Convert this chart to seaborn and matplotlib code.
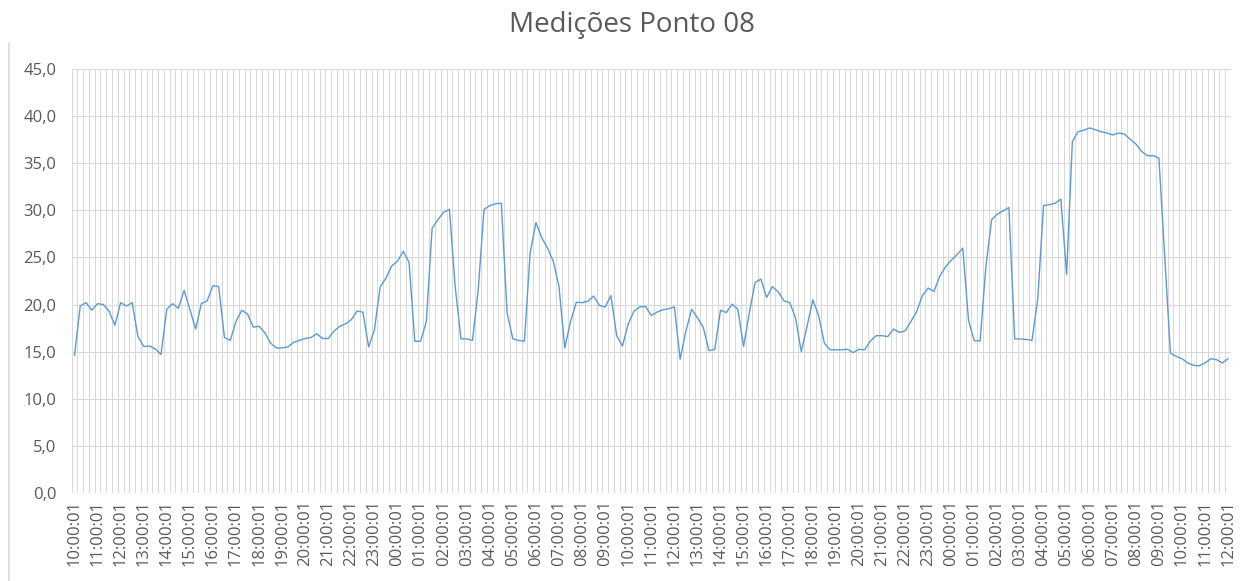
import numpy as np
import pandas as pd
import matplotlib
matplotlib.use("Agg")
import matplotlib.pyplot as plt
from matplotlib.lines import Line2D
import seaborn as sns

# readings every 15 min, 10:00:01 -> 12:00:01 two days later
values = [
    14.6, 19.85, 20.2, 19.4, 20.1, 20.0, 19.3, 17.8, 20.2, 19.85,
    20.2, 16.6, 15.55, 15.6, 15.3, 14.7, 19.5, 20.1, 19.6, 21.5,
    19.5, 17.4, 20.1, 20.4, 22.0, 21.9, 16.5, 16.2, 18.2, 19.4,
    19.0, 17.6, 17.7, 17.0, 15.9, 15.4, 15.4, 15.5, 16.0, 16.2,
    16.4, 16.5, 16.9, 16.4, 16.4, 17.2, 17.7, 17.95, 18.4, 19.3,
    19.2, 15.5, 17.35, 21.9, 22.8, 24.1, 24.6, 25.65, 24.5, 16.1,
    16.1, 18.2, 28.1, 29.0, 29.8, 30.1, 21.9, 16.35, 16.35, 16.2,
    21.6, 30.1, 30.5, 30.7, 30.75, 19.1, 16.35, 16.2, 16.1, 25.5,
    28.7, 27.1, 26.0, 24.6, 21.9, 15.4, 18.2, 20.25, 20.2, 20.35,
    20.9, 19.9, 19.75, 20.95, 16.7, 15.6, 17.95, 19.3, 19.75, 19.8,
    18.85, 19.2, 19.45, 19.55, 19.75, 14.2, 17.2, 19.5, 18.6, 17.6,
    15.1, 15.25, 19.4, 19.15, 20.05, 19.5, 15.55, 19.15, 22.35, 22.7,
    20.75, 21.9, 21.35, 20.4, 20.2, 18.6, 15.0, 17.7, 20.5, 18.85,
    15.9, 15.2, 15.2, 15.2, 15.25, 14.9, 15.25, 15.2, 16.15, 16.7,
    16.7, 16.6, 17.4, 17.05, 17.2, 18.2, 19.25, 20.95, 21.75, 21.4,
    23.0, 24.0, 24.7, 25.3, 26.0, 18.3, 16.15, 16.15, 24.0, 29.0,
    29.6, 29.95, 30.3, 16.35, 16.35, 16.3, 16.2, 20.6, 30.5, 30.6,
    30.75, 31.2, 23.2, 37.3, 38.35, 38.5, 38.75, 38.55, 38.35, 38.2,
    38.0, 38.2, 38.1, 37.55, 37.05, 36.25, 35.8, 35.8, 35.55, 25.1,
    14.85, 14.5, 14.25, 13.8, 13.55, 13.5, 13.8, 14.25, 14.15, 13.8,
    14.25,
]

hour_labels = [
    "10:00:01", "11:00:01", "12:00:01", "13:00:01", "14:00:01", "15:00:01",
    "16:00:01", "17:00:01", "18:00:01", "19:00:01", "20:00:01", "21:00:01",
    "22:00:01", "23:00:01", "00:00:01", "01:00:01", "02:00:01", "03:00:01",
    "04:00:01", "05:00:01", "06:00:01", "07:00:01", "08:00:01", "09:00:01",
    "10:00:01", "11:00:01", "12:00:01", "13:00:01", "14:00:01", "15:00:01",
    "16:00:01", "17:00:01", "18:00:01", "19:00:01", "20:00:01", "21:00:01",
    "22:00:01", "23:00:01", "00:00:01", "01:00:01", "02:00:01", "03:00:01",
    "04:00:01", "05:00:01", "06:00:01", "07:00:01", "08:00:01", "09:00:01",
    "10:00:01", "11:00:01", "12:00:01",
]
points_per_hour = 4

y_ticks = [0, 5, 10, 15, 20, 25, 30, 35, 40, 45]
y_labels = ["0,0", "5,0", "10,0", "15,0", "20,0", "25,0", "30,0", "35,0", "40,0", "45,0"]

title = "Medições Ponto 08"

sns.set_theme(style="white")
plt.rcParams["font.family"] = ["Open Sans", "DejaVu Sans"]

GRID = "#d9d9d9"
TEXT = "#595959"
LINE = "#5b9bd5"

df = pd.DataFrame({"idx": np.arange(len(values)), "valor": values})

fig = plt.figure(figsize=(12.45, 5.81), dpi=100)
ax = fig.add_axes([71.6 / 1245, 1 - 493 / 581, (1231 - 71.6) / 1245, (493 - 69) / 581])

sns.lineplot(data=df, x="idx", y="valor", ax=ax, color=LINE, linewidth=1.0)

n = len(values)
ax.set_xlim(-0.5, n - 0.5)
ax.set_ylim(0, 45)

ax.set_xticks(np.arange(0, n, points_per_hour))
ax.set_xticklabels(hour_labels, rotation=90, fontsize=12, color=TEXT)
ax.set_xticks(np.arange(-0.5, n, 1), minor=True)
ax.set_yticks(y_ticks)
ax.set_yticklabels(y_labels, fontsize=12, color=TEXT)

ax.grid(False)
ax.grid(True, which="minor", axis="x", color=GRID, linewidth=0.75)
ax.grid(True, which="major", axis="y", color=GRID, linewidth=0.75)
ax.set_axisbelow(True)
ax.tick_params(axis="both", which="both", length=0)
ax.tick_params(axis="y", pad=11)
ax.tick_params(axis="x", pad=5)
ax.set_xlabel("")
ax.set_ylabel("")
for side in ["top", "left", "right", "bottom"]:
    ax.spines[side].set_visible(False)

fig.text(632 / 1245, 1 - 25 / 581, title, ha="center", va="center", fontsize=20, color=TEXT)

# chart frame edge visible on the left
fig.add_artist(Line2D([8.5 / 1245, 8.5 / 1245], [0, 1 - 43 / 581], transform=fig.transFigure,
                      color=GRID, linewidth=1.2))

fig.savefig("out.png", dpi=100)
plt.close(fig)
